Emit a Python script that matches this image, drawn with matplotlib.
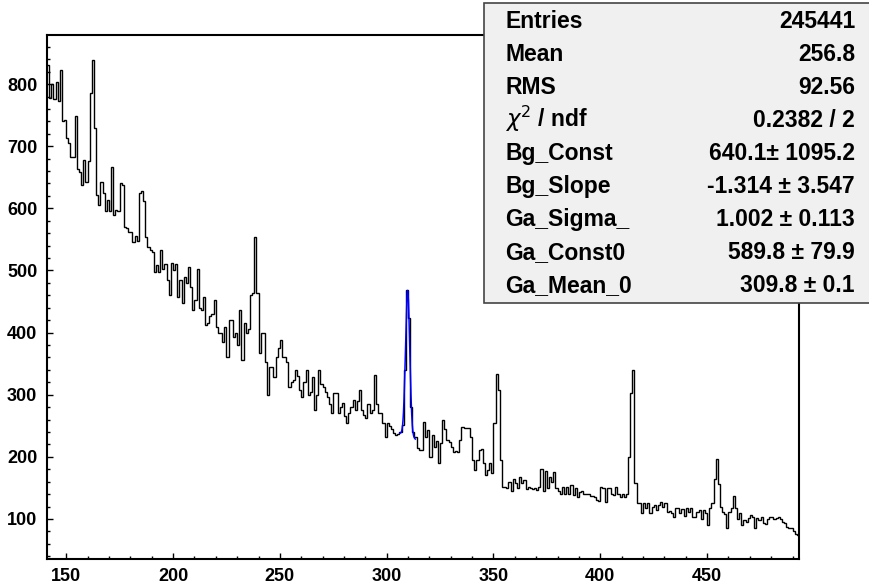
import numpy as np
import matplotlib.pyplot as plt
from matplotlib.patches import Rectangle
from matplotlib.ticker import MultipleLocator

plt.rcParams['font.family'] = ['Liberation Sans', 'DejaVu Sans']

# spectrum, 1 unit wide bins starting at 141
first_bin = 141
counts = [
    830, 778, 800, 776, 803, 772, 822, 740, 742, 713,
    705, 683, 683, 749, 664, 659, 637, 678, 643, 676,
    785, 839, 730, 621, 605, 642, 624, 595, 613, 595,
    667, 589, 598, 595, 641, 638, 570, 568, 562, 562,
    546, 555, 548, 625, 628, 612, 554, 538, 533, 530,
    498, 509, 498, 533, 503, 510, 485, 460, 512, 500,
    511, 458, 485, 447, 490, 480, 506, 474, 436, 452,
    503, 440, 436, 458, 412, 415, 426, 430, 452, 409,
    399, 399, 385, 409, 361, 420, 420, 393, 400, 380,
    436, 356, 415, 399, 405, 460, 463, 554, 463, 367,
    399, 399, 353, 300, 345, 345, 329, 361, 375, 388,
    361, 360, 353, 313, 320, 324, 340, 330, 308, 297,
    320, 340, 300, 305, 329, 275, 300, 340, 318, 312,
    305, 297, 285, 270, 302, 302, 270, 280, 286, 265,
    254, 270, 280, 292, 275, 290, 308, 275, 268, 262,
    285, 270, 275, 332, 285, 270, 270, 255, 232, 254,
    250, 245, 238, 235, 236, 240, 252, 340, 468, 423,
    281, 240, 232, 214, 211, 211, 256, 232, 243, 200,
    235, 216, 225, 190, 222, 259, 245, 227, 224, 216,
    208, 210, 208, 227, 248, 246, 246, 246, 232, 195,
    179, 195, 211, 213, 190, 171, 179, 190, 174, 254,
    334, 308, 195, 152, 152, 150, 160, 145, 165, 158,
    150, 167, 158, 162, 148, 152, 150, 148, 150, 146,
    152, 180, 145, 178, 150, 168, 160, 176, 150, 145,
    140, 152, 140, 152, 140, 155, 138, 150, 135, 143,
    145, 141, 140, 141, 137, 137, 135, 131, 129, 152,
    150, 128, 150, 150, 141, 138, 152, 140, 136, 141,
    136, 140, 200, 302, 340, 158, 126, 125, 109, 125,
    118, 126, 110, 120, 122, 115, 122, 128, 120, 125,
    112, 113, 110, 104, 118, 118, 110, 116, 105, 118,
    112, 117, 104, 104, 112, 114, 100, 115, 110, 90,
    117, 125, 165, 197, 157, 120, 112, 108, 85, 112,
    118, 137, 118, 100, 110, 90, 98, 95, 102, 106,
    104, 86, 102, 98, 104, 94, 92, 100, 104, 104,
    100, 102, 104, 100, 95, 93, 87, 85, 85, 80,
    76, 74,
]

# fit: pol1 background + normalised gaussian
bg_const, bg_const_err = 640.1, 1095.2
bg_slope, bg_slope_err = -1.314, 3.547
ga_sigma, ga_sigma_err = 1.002, 0.113
ga_const, ga_const_err = 589.8, 79.9
ga_mean, ga_mean_err = 309.8, 0.1
fit_range = (306.2, 313.4)

stat_labels = ['Entries', 'Mean', 'RMS', r'$\chi^{2}$ / ndf', 'Bg_Const', 'Bg_Slope',
               'Ga_Sigma_', 'Ga_Const0', 'Ga_Mean_0']
stat_values = ['245441', '256.8', '92.56', '0.2382 / 2',
               f'{bg_const}\u00b1 {bg_const_err}',
               f'{bg_slope} \u00b1 {bg_slope_err}',
               f'{ga_sigma} \u00b1 {ga_sigma_err}',
               f'{ga_const} \u00b1 {ga_const_err}',
               f'{ga_mean} \u00b1 {ga_mean_err}']

W, H = 869, 586
fig = plt.figure(figsize=(W / 100, H / 100), dpi=100)
ax = fig.add_axes([47 / W, 1 - 559 / H, (799 - 47) / W, (559 - 35) / H])

edges = np.arange(first_bin, first_bin + len(counts) + 1)
ax.stairs(counts, edges, baseline=None, color='black', linewidth=1.0)

xf = np.linspace(fit_range[0], fit_range[1], 400)
yf = (bg_const + bg_slope * xf
      + ga_const / (np.sqrt(2 * np.pi) * ga_sigma)
      * np.exp(-0.5 * ((xf - ga_mean) / ga_sigma) ** 2))
ax.plot(xf, yf, color='#0000ff', linewidth=1.1)

ax.set_xlim(edges[0], edges[-1])
ax.set_ylim(35.6, 879)
ax.xaxis.set_major_locator(MultipleLocator(50))
ax.xaxis.set_minor_locator(MultipleLocator(10))
ax.yaxis.set_major_locator(MultipleLocator(100))
ax.yaxis.set_minor_locator(MultipleLocator(20))
ax.tick_params(which='both', direction='in', top=False, right=False, width=1)
ax.tick_params(which='major', length=4.5, labelsize=13)
ax.tick_params(axis='x', which='major', pad=6.5)
ax.tick_params(axis='y', which='major', pad=7)
ax.tick_params(which='minor', length=2.5)
for lab in ax.get_xticklabels() + ax.get_yticklabels():
    lab.set_fontweight('bold')
for s in ax.spines.values():
    s.set_linewidth(1.5)

# stats box
fig.patches.append(Rectangle((484 / W, 1 - 303 / H), (880 - 484) / W, 300 / H,
                             transform=fig.transFigure, facecolor='#f0f0f0',
                             edgecolor='#444444', linewidth=1.2, zorder=5))
for i, (lab, val) in enumerate(zip(stat_labels, stat_values)):
    yb = 1 - (28.3 + 33 * i) / H
    fig.text(505 / W, yb, lab, ha='left', va='baseline', fontsize=16.5,
             fontweight='bold', zorder=6)
    fig.text(855 / W, yb, val, ha='right', va='baseline', fontsize=16.5,
             fontweight='bold', zorder=6)

fig.savefig('out.png', dpi=100)
